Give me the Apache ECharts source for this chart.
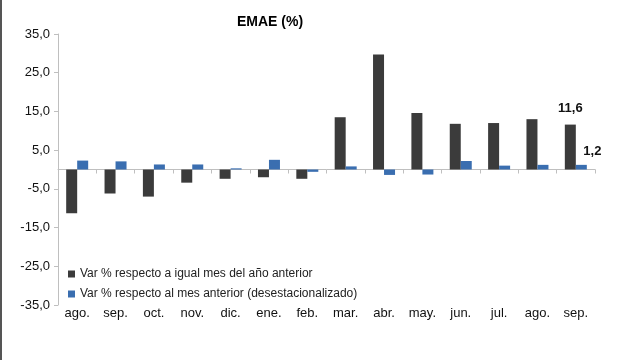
<!DOCTYPE html>
<html>
<head>
<meta charset="utf-8">
<script src="https://cdn.jsdelivr.net/npm/echarts@6/dist/echarts.min.js"></script>
<style>html,body{margin:0;padding:0;background:#fff}#c{width:617px;height:360px}</style>
</head>
<body>
<div id="c"></div>
<script>
var categories = ['ago.','sep.','oct.','nov.','dic.','ene.','feb.','mar.','abr.','may.','jun.','jul.','ago.','sep.'];
var interanual = [-11.3,-6.2,-7.0,-3.4,-2.4,-2.0,-2.4,13.5,29.7,14.6,11.8,12.0,13.0,11.6];
var mensual = [2.3,2.1,1.3,1.3,0.3,2.5,-0.6,0.8,-1.4,-1.3,2.2,1.0,1.2,1.2];
var yTicks = {min:-35, max:35, interval:10};
var seriesNames = ['Var % respecto a igual mes del año anterior','Var % respecto al mes anterior (desestacionalizado)'];

function fmt(v){ return v.toFixed(1).replace('.', ','); }
function withLastLabel(arr, lblOpt){
  return arr.map(function(v,i){
    if(i===arr.length-1){ return {value:v, label:lblOpt}; }
    return v;
  });
}
var font = 'Liberation Sans, Arial, sans-serif';
var chart = echarts.init(document.getElementById('c'));
chart.setOption({
  animation:false,
  backgroundColor:'#fff',
  title:{text:'EMAE (%)', left:265, top:10, textAlign:'center',
    textStyle:{fontFamily:font, fontSize:14, fontWeight:'bold', color:'#000'}},
  graphic:[{type:'rect', shape:{x:0,y:0,width:2,height:360}, style:{fill:'#555'}}],
  legend:{orient:'vertical', left:63, top:263, itemWidth:7, itemHeight:7, itemGap:8,
    icon:'rect', textStyle:{fontFamily:font, fontSize:12, color:'#222'},
    data:seriesNames},
  grid:{left:58, right:22, top:34, bottom:55},
  xAxis:[{
    type:'category', data:categories,
    axisLine:{onZero:true, lineStyle:{color:'#bfbfbf', width:1}},
    axisTick:{show:true, length:4, lineStyle:{color:'#bfbfbf'}},
    axisLabel:{show:false}
  },{
    type:'category', data:categories, position:'bottom',
    axisLine:{show:false, onZero:false}, axisTick:{show:false},
    axisLabel:{show:true, margin:2, fontFamily:font, fontSize:13, color:'#111'}
  }],
  yAxis:{type:'value', min:yTicks.min, max:yTicks.max, interval:yTicks.interval,
    axisLine:{show:true, lineStyle:{color:'#bfbfbf'}},
    axisTick:{show:true, length:4, lineStyle:{color:'#bfbfbf'}},
    splitLine:{show:false},
    axisLabel:{margin:8, fontFamily:font, fontSize:13, color:'#111', formatter:function(v){return fmt(v);}}},
  series:[{
    name:seriesNames[0], type:'bar', xAxisIndex:0, barWidth:11, barGap:'0%',
    itemStyle:{color:'#3b3b3b'},
    data:withLastLabel(interanual, {show:true, position:'top', distance:10,
      formatter:function(p){return fmt(p.value);},
      fontFamily:font, fontSize:13, fontWeight:'bold', color:'#111'})
  },{
    name:seriesNames[1], type:'bar', xAxisIndex:0, barWidth:11, barGap:'0%',
    itemStyle:{color:'#3a6eb0'},
    data:withLastLabel(mensual, {show:true, position:'top', distance:5, offset:[11,-2],
      formatter:function(p){return fmt(p.value);},
      fontFamily:font, fontSize:13, fontWeight:'bold', color:'#111'})
  }]
});
</script>
</body>
</html>
